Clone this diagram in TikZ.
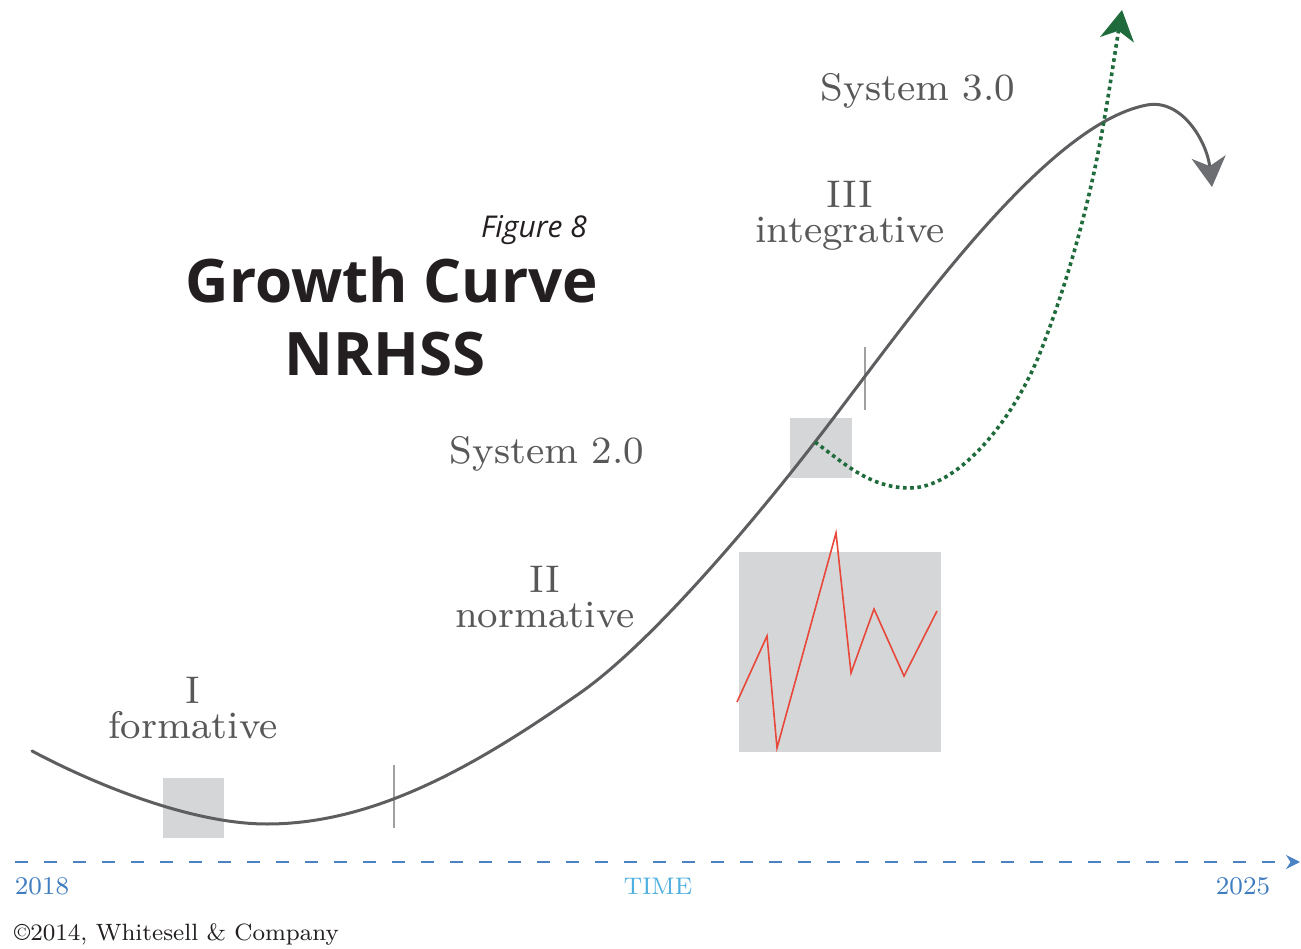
\documentclass[tikz,border=0pt]{standalone}
\usepackage{fontspec}
\newfontfamily\titlefont{Open Sans}
\newfontfamily\stagefont{lmroman8-regular}[Extension=.otf]
\usetikzlibrary{arrows.meta}
\definecolor{curvegray}{HTML}{5E5E60}
\definecolor{headgray}{HTML}{6D6E71}
\definecolor{tickgray}{HTML}{A0A0A0}
\definecolor{boxgray}{HTML}{D5D6D8}
\definecolor{zigred}{HTML}{E8483A}
\definecolor{dotgreen}{HTML}{1F6B3B}
\definecolor{axisblue}{HTML}{4A82C4}
\definecolor{yearblue}{HTML}{3F7CC0}
\definecolor{timeblue}{HTML}{4FB0E0}
\definecolor{labelgray}{HTML}{585858}
\definecolor{titleblack}{HTML}{231F20}
\tikzset{
  growth/.style={draw=curvegray, line width=3pt, line cap=round,
    -{Stealth[length=30pt,width=34pt,inset=9pt,color=headgray]}},
  greendots/.style={draw=dotgreen, line width=3.6pt, dash pattern=on 3.6pt off 3.6pt,
    -{Stealth[length=30pt,width=34pt,inset=9pt,color=dotgreen]}},
  stagetick/.style={draw=tickgray, line width=2pt},
  greybox/.style={fill=boxgray},
  zigzag/.style={draw=zigred, line width=1.6pt, line join=miter},
  timeaxis/.style={draw=axisblue, line width=2pt, dash pattern=on 13pt off 16pt,
    -{Stealth[length=14pt,width=14pt,color=axisblue]}},
  stage/.style={font=\stagefont\fontsize{38.5}{35}\selectfont, text=labelgray, inner sep=0pt, align=center, anchor=north},
  syslabel/.style={font=\stagefont\fontsize{38.5}{38.5}\selectfont, text=labelgray, inner sep=0pt, anchor=base},
  yearlabel/.style={font=\stagefont\fontsize{25.5}{25.5}\selectfont, text=yearblue, inner sep=0pt, anchor=base},
}
\begin{document}
\begin{tikzpicture}[x=1pt,y=-1pt]
\useasboundingbox (0,0) rectangle (1301,949);
% grey boxes
\fill[greybox] (163,778) rectangle (224,838);
\fill[greybox] (790,418) rectangle (852,478);
\fill[greybox] (739,552) rectangle (941,752);
% stage ticks
\draw[stagetick] (394,765) -- (394,828);
\draw[stagetick] (865,347) -- (865,410);
% red zigzag
\draw[zigzag] (737,702) -- (767,636) -- (777,748) -- (836,533) -- (851,673) -- (874,609) -- (904,676) -- (937,611);
% growth curve
\draw[growth] (32,751) .. controls (92,783) and (190,824) .. (267,824)
  .. controls (377,824) and (480,763) .. (580,693)
  .. controls (660,637) and (775,494) .. (815,442)
  .. controls (895,340) and (1040,125) .. (1147,105)
  .. controls (1182,98.5) and (1207,142) .. (1212,187);
% green dotted jump
\draw[greendots] (815,442) .. controls (845,464) and (870,488) .. (910,488)
  .. controls (955,488) and (1010,427) .. (1040,353)
  .. controls (1062,297) and (1080,236) .. (1093,177)
  .. controls (1105,123) and (1113,64) .. (1122,10);
% time axis
\coordinate (axstart) at (15,862);
\coordinate (axend) at (1300,862);
\draw[timeaxis] (axstart) -- (axend);
% texts
\node[yearlabel] (y2018) at (42,894) {2018};
\node[yearlabel, text=timeblue, font=\stagefont\fontsize{24}{24}\selectfont] (time) at (658,894) {TIME};
\node[yearlabel] (y2025) at (1243,894) {2025};
\node[font=\stagefont\fontsize{23.6}{23.6}\selectfont, text=titleblack, inner sep=0pt, anchor=base west] (copy) at (14,940) {\textcopyright2014, Whitesell \& Company};
\node[font=\titlefont\itshape\fontsize{30}{30}\selectfont, text=titleblack, inner sep=0pt, anchor=base] (fig) at (534,238) {Figure 8};
\node[font=\titlefont\bfseries\fontsize{60}{60}\selectfont, text=titleblack, inner sep=0pt, anchor=base] (title1) at (392,303) {Growth Curve};
\node[font=\titlefont\bfseries\fontsize{60}{60}\selectfont, text=titleblack, inner sep=0pt, anchor=base] (title2) at (385,376) {NRHSS};
\node[stage] (stage1) at (193,677) {I\\formative};
\node[stage] (stage2) at (545,566) {II\\normative};
\node[stage] (stage3) at (850,181) {III\\integrative};
\node[syslabel] (sys2) at (547,463) {System 2.0};
\node[syslabel] (sys3) at (918,101) {System 3.0};
\end{tikzpicture}
\end{document}
